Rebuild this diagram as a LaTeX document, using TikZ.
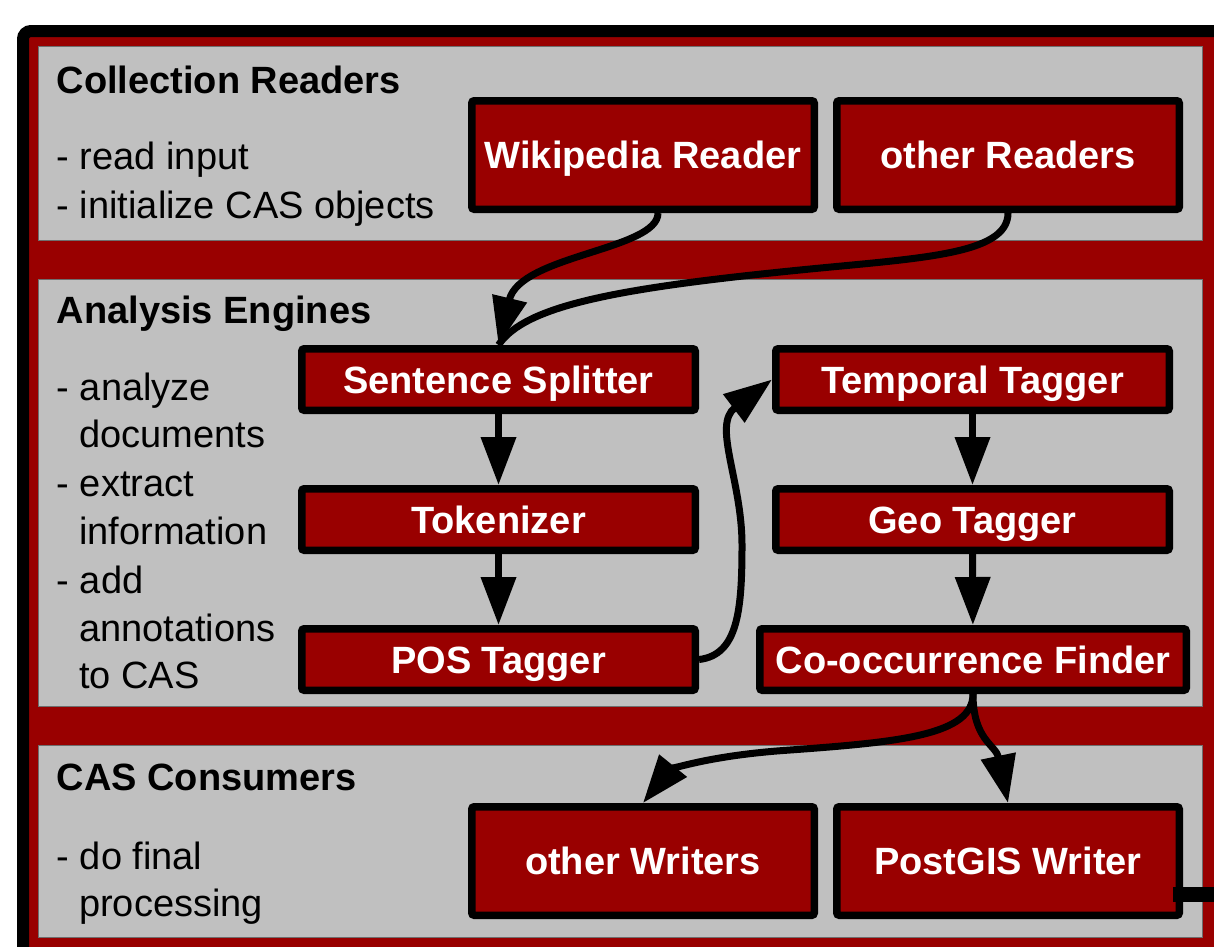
\documentclass[tikz,border=0pt]{standalone}
\usepackage{fontspec}
\setmainfont{Liberation Sans}
\usetikzlibrary{arrows.meta,calc}
\definecolor{uimared}{HTML}{990000}
\definecolor{panelgray}{HTML}{C0C0C0}
\definecolor{paneledge}{HTML}{6E6E6E}
\begin{document}
\begin{tikzpicture}[x=1pt,y=-1pt,
  every node/.style={font=\fontsize{38}{46}\selectfont},
  comp/.style={draw=black, line width=7.5pt, fill=uimared, text=white,
    font=\fontsize{38}{46}\selectfont\bfseries, rounded corners=2.5pt,
    inner sep=0pt, text height=27.2pt, text depth=0pt},
  wide/.style={comp, minimum width=342.5pt, minimum height=108.5pt},
  slim/.style={comp, minimum width=393.5pt, minimum height=61.5pt},
  panel/.style={fill=panelgray, draw=paneledge, line width=1pt},
  ptitle/.style={anchor=base west, inner sep=0pt, font=\fontsize{38}{46}\selectfont\bfseries},
  desc/.style={anchor=base west, inner sep=0pt},
  flow/.style={line width=7pt, -{Triangle[length=48pt,width=34pt]}},
  link/.style={line width=7pt},
  stub/.style={line width=15pt},
]
\useasboundingbox (0,0) rectangle (1214,946);
\clip (0,0) rectangle (1214,946);
% outer frame
\draw[line width=12pt, fill=uimared, rounded corners=8pt] (23,31) rectangle (1260,1000);
% panels
\draw[panel] (38.5,46.5) rectangle (1202.5,240);
\draw[panel] (38.5,279.5) rectangle (1202.5,706.5);
\draw[panel] (38.5,745) rectangle (1202.5,937.5);

% panel texts
\node[ptitle] (crt) at (56.5,93) {Collection Readers};
\node[desc] (cr1) at (56.5,169) {- read input};
\node[desc] (cr2) at (56.5,218) {- initialize CAS objects};

\node[ptitle] (aet) at (56.5,323) {Analysis Engines};
\node[desc] (ae1) at (56.5,400) {- analyze};
\node[desc] (ae2) at (79,447) {documents};
\node[desc] (ae3) at (56.5,496) {- extract};
\node[desc] (ae4) at (79,544) {information};
\node[desc] (ae5) at (56.5,593) {- add};
\node[desc] (ae6) at (79,641) {annotations};
\node[desc] (ae7) at (79,688) {to CAS};

\node[ptitle] (cct) at (56.5,790) {CAS Consumers};
\node[desc] (cc1) at (56.5,869) {- do final};
\node[desc] (cc2) at (79,916) {processing};

% components
\node[wide] (wiki) at (643,155) {Wikipedia Reader};
\node[wide] (others) at (1008,155) {other Readers};
\node[slim] (sent) at (498.5,379.5) {Sentence Splitter};
\node[slim] (tok) at (498.5,519.5) {Tokenizer};
\node[slim] (pos) at (498.5,659.5) {POS Tagger};
\node[slim] (temp) at (972.5,379.5) {Temporal Tagger};
\node[slim] (geo) at (972.5,519.5) {Geo Tagger};
\node[slim, minimum width=426.5pt] (cooc) at (973,659.5) {Co-occurrence Finder};
\node[wide] (ow) at (643,861) {other Writers};
\node[wide] (pg) at (1008,861) {PostGIS Writer};

% connectors
\draw[link] (others.south) .. controls (1008,255) and (920,258) .. (800,270)
  .. controls (620,288) and (525,305) .. (sent.north);
\draw[flow] ([xshift=15pt]wiki.south) .. controls (658,250) and (520,255) .. (sent.north);
\draw[flow] (sent) -- (tok);
\draw[flow] (tok) -- (pos);
\draw[flow] (pos.east) .. controls (738,655) and (742,610) .. (742,545)
  .. controls (742,480) and (712,425) .. (temp.west);
\draw[flow] (temp) -- (geo);
\draw[flow] (geo) -- (cooc);
\draw[flow] (cooc.south) .. controls (973,735) and (900,742) .. (790,750)
  .. controls (700,756) and (668,772) .. (ow.north);
\draw[flow] (cooc.south) .. controls (973,740) and (996,745) .. (pg.north);
\coordinate (offpage) at (1240,894.5);
\draw[stub] ([xshift=-10pt,yshift=-33.5pt]pg.east) -- (offpage);
\end{tikzpicture}
\end{document}
